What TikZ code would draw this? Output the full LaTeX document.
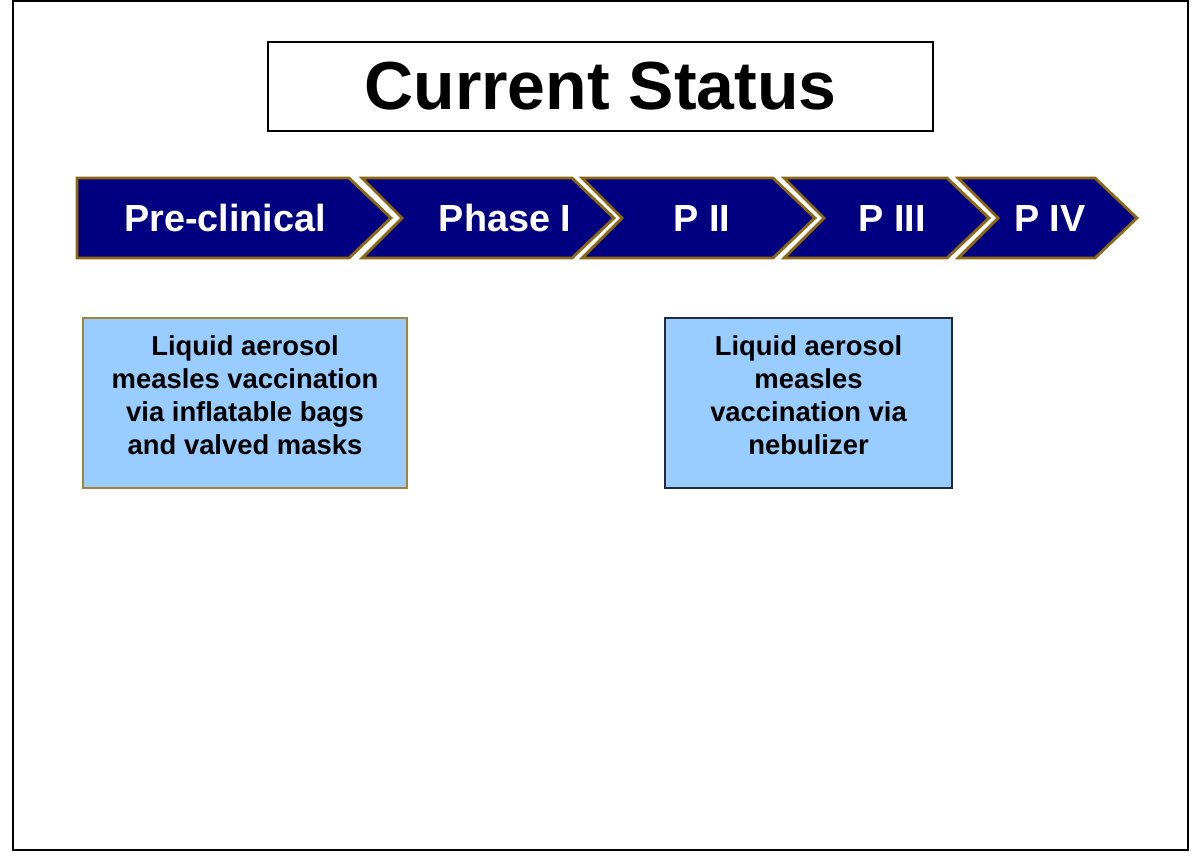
\documentclass[tikz,border=0pt]{standalone}
\usepackage{fontspec}
\setmainfont{Liberation Sans}
\usepackage{tikz}
\usetikzlibrary{positioning, calc}

\definecolor{navy}{HTML}{000080}
\definecolor{gold}{HTML}{8B6914}
\definecolor{skyfill}{HTML}{99CCFF}
\definecolor{bagline}{HTML}{A0843C}
\definecolor{nebline}{HTML}{1F2A40}

\tikzset{
  stage/.style={fill=navy, draw=gold, line width=1.6pt, line join=miter},
  stagetext/.style={text=white, font=\fontsize{21.5}{25}\selectfont\bfseries},
  infobox/.style={fill=skyfill, line width=0.8pt, minimum width=324*0.02cm, minimum height=170*0.02cm},
  boxtext/.style={align=center, font=\fontsize{15.6}{18.8}\selectfont\bfseries}
}

\begin{document}
\begin{tikzpicture}[x=0.02cm, y=-0.02cm]
\useasboundingbox (0,0) rectangle (1200,867);
\draw[line width=1.2pt] (13,1) rectangle (1188,850);

% title
\node[draw, line width=0.9pt, minimum width=665*0.02cm, minimum height=89*0.02cm,
  font=\fontsize{38.7}{44}\selectfont\bfseries] (title) at (600.5,86.5) {Current Status};

% stages
\foreach \l/\r/\n in {77/349/0, 362/572/40, 582/773/40, 784/947/40, 958/1095/40}
  \draw[stage] (\l,178) -- (\r,178) -- (\r+42,218) -- (\r,258) -- (\l,258) -- (\l+\n,218) -- cycle;

\node[stagetext] (pre) at (225,218) {Pre-clinical};
\node[stagetext] (p1) at (505,218) {Phase I};
\node[stagetext] (p2) at (702,218) {P II};
\node[stagetext] (p3) at (892,218) {P III};
\node[stagetext] (p4) at (1050,218) {P IV};

% what is where
\node[infobox, draw=bagline] (bags) at (245,403) {};
\node[boxtext, below=12*0.02cm of bags.north] (bagstext)
  {Liquid aerosol\\measles vaccination\\via inflatable bags\\and valved masks};

\node[infobox, draw=nebline, minimum width=287*0.02cm] (neb) at (808.5,403) {};
\node[boxtext, below=12*0.02cm of neb.north] (nebtext)
  {Liquid aerosol\\measles\\vaccination via\\nebulizer};
\end{tikzpicture}
\end{document}
